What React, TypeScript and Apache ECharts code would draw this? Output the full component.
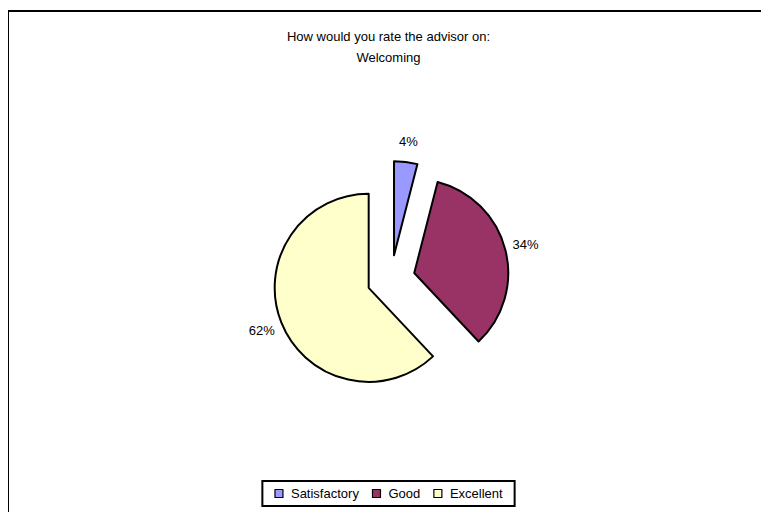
import React, { useEffect, useRef } from "react";
import * as echarts from "echarts";

const titleLines = ["How would you rate the advisor on:", "Welcoming"];
const categories = ["Satisfactory", "Good", "Excellent"];
const values = [4, 34, 62];
const colors = ["#9999FF", "#993366", "#FFFFCC"];

export default function App() {
  const ref = useRef<HTMLDivElement>(null);
  useEffect(() => {
    if (!ref.current) return;
    const chart = echarts.init(ref.current, null, { renderer: "svg" });
    const font = "Liberation Sans, Arial, sans-serif";
    const sliceData = categories.map((name, i) => ({
      name,
      value: values[i],
      selected: true,
      itemStyle: { color: colors[i] },
    }));
    const labelData = categories.map((name, i) => ({
      name,
      value: values[i],
      selected: true,
    }));
    const center = [383, 271];
    chart.setOption({
      animation: false,
      backgroundColor: "#ffffff",
      title: {
        text: titleLines.join("\n"),
        left: "center",
        top: 18,
        padding: 0,
        textStyle: {
          fontFamily: font,
          fontSize: 13,
          fontWeight: "normal",
          color: "#000",
          lineHeight: 21,
        },
      },
      legend: {
        data: categories,
        left: "center",
        top: 473,
        orient: "horizontal",
        icon: "rect",
        itemWidth: 8,
        itemHeight: 8,
        itemGap: 13,
        padding: [6, 12],
        borderColor: "#000",
        borderWidth: 2,
        selectedMode: false,
        itemStyle: { borderColor: "#000", borderWidth: 1.2 },
        textStyle: { fontFamily: font, fontSize: 13, color: "#000", padding: [0, 0, 0, 3] },
      },
      graphic: [
        {
          type: "rect",
          shape: { x: 0, y: 3, width: 2000, height: 2000 },
          style: { fill: "none", stroke: "#000", lineWidth: 2 },
          silent: true,
        },
      ],
      series: [
        {
          type: "pie",
          center,
          radius: [0, 94],
          startAngle: 90,
          clockwise: true,
          selectedMode: "multiple",
          selectedOffset: 24,
          silent: true,
          emphasis: { disabled: true },
          itemStyle: { borderColor: "#000", borderWidth: 2 },
          select: { itemStyle: { borderColor: "#000", borderWidth: 2 } },
          label: { show: false },
          labelLine: { show: false },
          data: sliceData,
        },
        {
          type: "pie",
          center,
          radius: [104, 120],
          startAngle: 90,
          clockwise: true,
          selectedMode: "multiple",
          selectedOffset: 24,
          silent: true,
          emphasis: { disabled: true },
          itemStyle: { color: "rgba(0,0,0,0)", borderWidth: 0 },
          select: {
            itemStyle: { color: "rgba(0,0,0,0)", borderWidth: 0 },
            label: { color: "#000" },
          },
          label: {
            show: true,
            position: "inside",
            formatter: "{d}%",
            fontFamily: font,
            fontSize: 13,
            color: "#000",
          },
          labelLine: { show: false },
          percentPrecision: 0,
          data: labelData,
        },
      ],
    });
    return () => chart.dispose();
  }, []);
  return <div ref={ref} style={{ width: 761, height: 504 }} />;
}
